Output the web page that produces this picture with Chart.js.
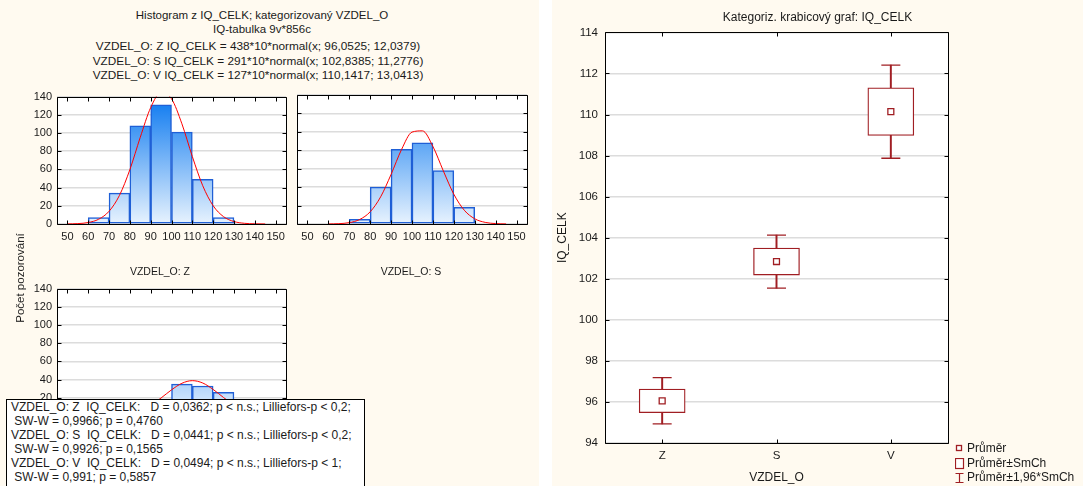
<!DOCTYPE html>
<html lang="cs">
<head>
<meta charset="UTF-8">
<title>IQ_CELK podle VZDEL_O</title>
<script src="https://cdn.jsdelivr.net/npm/chart.js"></script>
<style>
  body { margin: 0; width: 1083px; height: 486px; background: #fff; position: relative; overflow: hidden;
         font-family: "Liberation Sans", Arial, sans-serif; color: #1a1a1a; }
  .panel { position: absolute; top: 0; height: 486px; background: #fffaf0; }
  .txt { position: absolute; white-space: pre; line-height: 14px; }
  canvas { position: absolute; }
  #stats { position: absolute; left: 6px; top: 399px; width: 353px; height: 100px; background: #fff;
           border: 1px solid #000; padding: 0 0 0 4px; font-size: 12px; line-height: 14px; white-space: pre; }
  .leg { position: absolute; left: 955px; font-size: 12px; line-height: 14px; white-space: pre; }
  .leg svg { position: absolute; left: 0; top: 2px; }
  .leg span { position: absolute; left: 12px; top: 0; }
</style>
</head>
<body>
<div class="panel" style="left:0; width:539px;"></div>
<div class="panel" style="left:552px; width:531px;"></div>

<div class="txt" style="left:0; width:524px; text-align:center; top:8px; font-size:11.5px;">Histogram z IQ_CELK; kategorizovaný VZDEL_O</div>
<div class="txt" style="left:0; width:524px; text-align:center; top:22px; font-size:11.5px;">IQ-tabulka 9v*856c</div>
<div class="txt" style="left:0; width:516px; text-align:center; top:39px; font-size:11.8px;">VZDEL_O: Z IQ_CELK = 438*10*normal(x; 96,0525; 12,0379)</div>
<div class="txt" style="left:0; width:516px; text-align:center; top:53.5px; font-size:11.8px;">VZDEL_O: S IQ_CELK = 291*10*normal(x; 102,8385; 11,2776)</div>
<div class="txt" style="left:0; width:516px; text-align:center; top:68px; font-size:11.8px;">VZDEL_O: V IQ_CELK = 127*10*normal(x; 110,1417; 13,0413)</div>

<canvas id="histZ" width="292" height="165" style="left:0; top:85px;"></canvas>
<canvas id="histS" width="240" height="165" style="left:292px; top:85px;"></canvas>
<canvas id="histV" width="292" height="165" style="left:0; top:277px;"></canvas>

<div class="txt" style="left:100px; width:120px; text-align:center; top:264px; font-size:10.5px;">VZDEL_O: Z</div>
<div class="txt" style="left:351px; width:120px; text-align:center; top:264px; font-size:10.5px;">VZDEL_O: S</div>
<div class="txt" style="left:-40px; width:120px; text-align:center; top:271px; font-size:11.5px; transform:rotate(-90deg);">Počet pozorování</div>

<div id="stats">VZDEL_O: Z  IQ_CELK:   D = 0,0362; p &lt; n.s.; Lilliefors-p &lt; 0,2;
 SW-W = 0,9966; p = 0,4760
VZDEL_O: S  IQ_CELK:   D = 0,0441; p &lt; n.s.; Lilliefors-p &lt; 0,2;
 SW-W = 0,9926; p = 0,1565
VZDEL_O: V  IQ_CELK:   D = 0,0494; p &lt; n.s.; Lilliefors-p &lt; 1;
 SW-W = 0,991; p = 0,5857</div>

<canvas id="box" width="531" height="486" style="left:552px; top:0;"></canvas>

<div class="leg" style="top:441px;"><svg width="10" height="10"><rect x="1.5" y="2.5" width="5" height="5" fill="#fff" stroke="#a01e23" stroke-width="1.3"/></svg><span>Průměr</span></div>
<div class="leg" style="top:456px;"><svg width="10" height="12"><rect x="0.5" y="0.5" width="8" height="10" fill="#fff" stroke="#a01e23" stroke-width="1.2"/></svg><span>Průměr±SmCh</span></div>
<div class="leg" style="top:470px;"><svg width="10" height="12"><path d="M0.5 1.5H8.5M4.5 1.5V10.5M0.5 10.5H8.5" stroke="#a01e23" stroke-width="1.2" fill="none"/></svg><span>Průměr±1,96*SmCh</span></div>

<script>
// histogram bins (10-point wide classes, centres)
const binCenters = [55, 65, 75, 85, 95, 105, 115, 125, 135, 145];
const countsZ = [0, 7, 34, 108, 131, 101, 49, 7, 1, 0];
const countsS = [0, 0, 5, 40, 81, 88, 58, 18, 1, 0];
const countsV = [0, 0, 3, 8, 17, 35, 33, 26, 4, 1];

// fitted normal curves, read at every 5 points of IQ
const curveX = [50, 55, 60, 65, 70, 75, 80, 85, 90, 95, 100, 105, 110, 115, 120, 125, 130, 135, 140, 145, 150];
const curveZ = [0.1, 0.43, 1.64, 5.21, 13.96, 31.45, 59.7, 95.3, 127.9, 144.6, 137.6, 110.1, 74.2, 42.1, 20.1, 8.07, 2.73, 0.77, 0.19, 0.04, null];
const curveS = [null, null, 0.08, 0.37, 1.48, 4.89, 13.25, 29.47, 53.85, 80.85, 99.73, 101.07, 84.15, 57.55, 32.34, 14.94, 5.67, 1.76, 0.45, 0.1, null];
const curveV = [null, null, 0.02, 0.1, 0.34, 1.03, 2.69, 6.06, 11.79, 19.81, 28.71, 35.94, 38.85, 36.25, 29.2, 20.3, 12.19, 6.32, 2.83, 1.09, 0.36];

const xTicks = [50, 60, 70, 80, 90, 100, 110, 120, 130, 140, 150];
const yTicks = [0, 20, 40, 60, 80, 100, 120, 140];

// box plot
const groups = ['Z', 'S', 'V'];
const meanIQ = [96.05, 102.84, 110.14];
const seLow = [95.48, 102.18, 108.98];
const seHigh = [96.63, 103.50, 111.30];
const ciLow = [94.93, 101.54, 107.87];
const ciHigh = [97.18, 104.13, 112.41];
const boxTicks = [94, 96, 98, 100, 102, 104, 106, 108, 110, 112, 114];

const RED = '#a01e23';
Chart.defaults.font.family = '"Liberation Sans", Arial, sans-serif';
Chart.defaults.color = '#1a1a1a';

// white plot area, black frame and inward ticks
const framePlugin = {
    id: 'frame',
    beforeDraw(chart) {
        const { ctx, chartArea: a } = chart;
        ctx.save();
        ctx.fillStyle = '#fff';
        ctx.fillRect(a.left, a.top, a.width, a.height);
        ctx.restore();
    },
    afterDraw(chart) {
        const { ctx, chartArea: a, scales } = chart;
        const l = Math.round(a.left) + 0.5, r = Math.round(a.right) + 0.5;
        const t = Math.round(a.top) + 0.5, b = Math.round(a.bottom) + 0.5;
        ctx.save();
        ctx.strokeStyle = '#000';
        ctx.lineWidth = 1;
        ctx.beginPath();
        ctx.rect(l, t, r - l, b - t);
        scales.x.ticks.forEach((tk, i) => {
            const px = Math.round(scales.x.getPixelForTick(i)) + 0.5;
            ctx.moveTo(px, b); ctx.lineTo(px, b - 4);
            ctx.moveTo(px, t); ctx.lineTo(px, t + 4);
        });
        scales.y.ticks.forEach((tk, i) => {
            const py = Math.round(scales.y.getPixelForTick(i)) + 0.5;
            ctx.moveTo(l, py); ctx.lineTo(l + 4, py);
            ctx.moveTo(r, py); ctx.lineTo(r - 4, py);
        });
        ctx.stroke();
        ctx.restore();
    }
};

function barGradient(context) {
    const chart = context.chart;
    const a = chart.chartArea;
    if (!a) return '#8cc4fa';
    const g = chart.ctx.createLinearGradient(0, a.top, 0, a.bottom);
    g.addColorStop(0, '#0a78f0');
    g.addColorStop(1, '#e8f3fe');
    return g;
}

function histogram(id, counts, curve, showY) {
    return new Chart(document.getElementById(id), {
        type: 'bar',
        data: {
            datasets: [
                {
                    type: 'line',
                    data: curveX.map((x, i) => ({ x: x, y: curve[i] })),
                    borderColor: '#ff0000',
                    borderWidth: 1,
                    pointRadius: 0,
                    cubicInterpolationMode: 'monotone'
                },
                {
                    data: binCenters.map((x, i) => ({ x: x, y: counts[i] })),
                    backgroundColor: barGradient,
                    borderColor: '#1f5fd6',
                    borderWidth: 1.5,
                    borderSkipped: false,
                    barPercentage: 1,
                    categoryPercentage: 1
                }
            ]
        },
        options: {
            responsive: false,
            animation: false,
            events: [],
            layout: { padding: { top: 10, left: showY ? 0 : 5, right: showY ? 6 : 5, bottom: 0 } },
            plugins: { legend: { display: false }, tooltip: { enabled: false } },
            scales: {
                x: {
                    type: 'linear',
                    min: 45,
                    max: 155,
                    offset: false,
                    grid: { display: false, drawTicks: false },
                    border: { display: false },
                    afterBuildTicks(s) { s.ticks = xTicks.map(v => ({ value: v })); },
                    ticks: { font: { size: 11 }, padding: 6, autoSkip: false, maxRotation: 0 },
                    afterFit(s) { s.height = 26; }
                },
                y: {
                    min: 0,
                    max: 140,
                    grid: { color: '#dcdcdc', lineWidth: 1.5, drawTicks: false },
                    border: { display: false },
                    afterBuildTicks(s) { s.ticks = yTicks.map(v => ({ value: v })); },
                    ticks: { display: showY, font: { size: 11 }, padding: 5 },
                    afterFit(s) { s.width = showY ? 57 : 0; }
                }
            }
        },
        plugins: [framePlugin]
    });
}

histogram('histZ', countsZ, curveZ, true);
histogram('histS', countsS, curveS, false);
histogram('histV', countsV, curveV, true);

new Chart(document.getElementById('box'), {
    type: 'bar',
    data: {
        labels: groups,
        datasets: [
            {
                type: 'line',
                label: 'Průměr',
                data: meanIQ,
                showLine: false,
                pointStyle: 'rect',
                pointRadius: 4.2,
                pointBackgroundColor: '#fff',
                pointBorderColor: RED,
                pointBorderWidth: 1.3
            },
            {
                label: 'Průměr±SmCh',
                data: groups.map((g, i) => [seLow[i], seHigh[i]]),
                backgroundColor: '#fff',
                borderColor: RED,
                borderWidth: 1.3,
                borderSkipped: false,
                barThickness: 46,
                grouped: false
            },
            {
                type: 'line',
                label: 'horní mez',
                data: ciHigh,
                showLine: false,
                pointStyle: 'line',
                pointRadius: 9.5,
                pointBorderColor: RED,
                pointBorderWidth: 1.3
            },
            {
                type: 'line',
                label: 'dolní mez',
                data: ciLow,
                showLine: false,
                pointStyle: 'line',
                pointRadius: 9.5,
                pointBorderColor: RED,
                pointBorderWidth: 1.3
            },
            {
                label: 'Průměr±1,96*SmCh',
                data: groups.map((g, i) => [ciLow[i], ciHigh[i]]),
                backgroundColor: RED,
                borderWidth: 0,
                barThickness: 1.3,
                grouped: false
            }
        ]
    },
    options: {
        responsive: false,
        animation: false,
        events: [],
        layout: { padding: 0 },
        plugins: {
            legend: { display: false },
            tooltip: { enabled: false },
            title: {
                display: true,
                text: 'Kategoriz. krabicový graf: IQ_CELK',
                font: { size: 12, weight: 'normal' },
                color: '#1a1a1a',
                padding: { top: 10, bottom: 8 }
            }
        },
        scales: {
            x: {
                offset: true,
                grid: { display: false, drawTicks: false },
                border: { display: false },
                ticks: { font: { size: 11.5 }, padding: 6 },
                title: { display: true, text: 'VZDEL_O', font: { size: 12 }, padding: { top: 0, bottom: 1 } },
                afterFit(s) { s.height = 43; }
            },
            y: {
                min: 94,
                max: 114,
                grid: { color: '#dcdcdc', lineWidth: 1.5, drawTicks: false },
                border: { display: false },
                afterBuildTicks(s) { s.ticks = boxTicks.map(v => ({ value: v })); },
                ticks: { font: { size: 11.5 }, padding: 7 },
                title: { display: true, text: 'IQ_CELK', font: { size: 12 }, padding: { top: 3, bottom: 0 } },
                afterFit(s) { s.width = 53; }
            },
            yRight: {
                position: 'right',
                grid: { display: false, drawTicks: false },
                border: { display: false },
                ticks: { display: false },
                afterFit(s) { s.width = 135; }
            }
        }
    },
    plugins: [framePlugin]
});
</script>
</body>
</html>
